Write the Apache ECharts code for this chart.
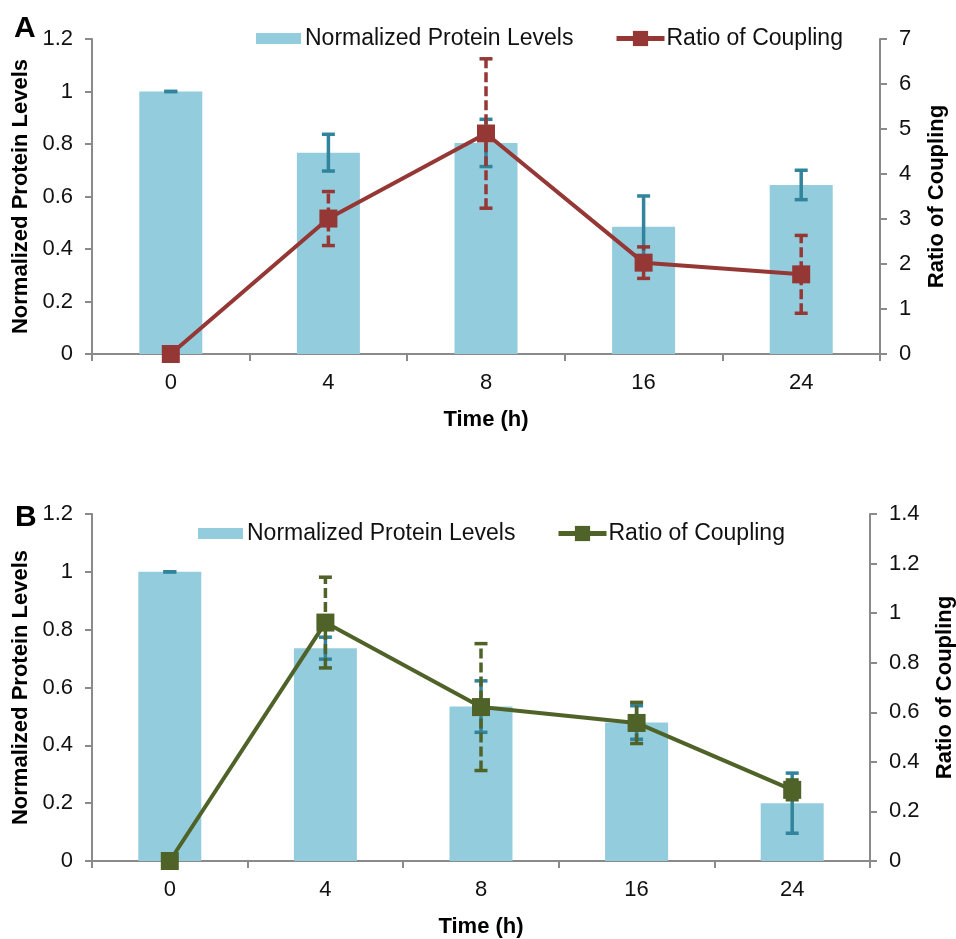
<!DOCTYPE html>
<html>
<head>
<meta charset="utf-8">
<script src="https://cdn.jsdelivr.net/npm/echarts@6/dist/echarts.min.js"></script>
<style>
html,body{margin:0;padding:0;background:#fff;}
#a{position:absolute;left:0;top:0;width:956px;height:470px;}
#b{position:absolute;left:0;top:470px;width:956px;height:469px;}
</style>
</head>
<body>
<div id="a"></div>
<div id="b"></div>
<script>
// ---- data ----
const times = ['0', '4', '8', '16', '24'];
const proteinA = [1.0, 0.767, 0.804, 0.485, 0.644];
const proteinErrA = [0, 0.07, 0.09, 0.117, 0.056];
const ratioA = [0, 3.01, 4.9, 2.03, 1.77];
const ratioErrA = [0, 0.6, 1.66, 0.35, 0.865];

const proteinB = [1.0, 0.736, 0.534, 0.479, 0.2];
const proteinErrB = [0, 0.038, 0.089, 0.058, 0.104];
const ratioB = [0, 0.962, 0.621, 0.557, 0.287];
const ratioErrB = [0, 0.183, 0.256, 0.083, 0.04];

const leftTicksA = {min: 0, max: 1.2, interval: 0.2};
const rightTicksA = {min: 0, max: 7, interval: 1};
const leftTicksB = {min: 0, max: 1.2, interval: 0.2};
const rightTicksB = {min: 0, max: 1.4, interval: 0.2};

// ---- styles ----
const FONT = 'Liberation Sans, Arial, Helvetica, sans-serif';
const AXIS = '#8a8a8a';
const BAR = '#93cddd';
const BARERR = '#31849b';
const RED = '#953735';
const GREEN = '#4f6228';

function errData(vals, errs) {
  return vals.map((v, i) => [i, v - errs[i], v + errs[i]]);
}

function errRender(color, dashed, capW, lw) {
  return function (params, api) {
    const x = api.value(0);
    const pLo = api.coord([x, api.value(1)]);
    const pHi = api.coord([x, api.value(2)]);
    const st = {stroke: color, lineWidth: lw};
    const vst = {stroke: color, lineWidth: lw};
    if (dashed) vst.lineDash = [10, 4];
    return {
      type: 'group',
      children: [
        {type: 'line', shape: {x1: pLo[0], y1: pLo[1], x2: pHi[0], y2: pHi[1]}, style: vst},
        {type: 'line', shape: {x1: pLo[0] - capW / 2, y1: pLo[1], x2: pLo[0] + capW / 2, y2: pLo[1]}, style: st},
        {type: 'line', shape: {x1: pHi[0] - capW / 2, y1: pHi[1], x2: pHi[0] + capW / 2, y2: pHi[1]}, style: st}
      ]
    };
  };
}

function makeOption(cfg) {
  const labelStyle = {fontFamily: FONT, fontSize: 22, color: '#111'};
  const nameStyle = {fontFamily: FONT, fontSize: 22, fontWeight: 'bold', color: '#000'};
  return {
    animation: false,
    backgroundColor: '#fff',
    title: {
      text: cfg.panel, left: cfg.panelLeft, top: cfg.panelTop,
      textStyle: {fontFamily: FONT, fontSize: 30, fontWeight: 'bold', color: '#000'}
    },
    legend: [
      {
        data: [{name: 'Normalized Protein Levels', icon: 'rect'}],
        left: cfg.legBarLeft, top: cfg.legTop, itemWidth: 45, itemHeight: 11, itemGap: 4,
        textStyle: {fontFamily: FONT, fontSize: 23, color: '#111', padding: [0, 0, 0, -1]},
        selectedMode: false
      },
      {
        data: ['Ratio of Coupling'],
        left: cfg.legLineLeft, top: cfg.legTop, itemWidth: 48, itemHeight: 19,
        lineStyle: {width: 5},
        textStyle: {fontFamily: FONT, fontSize: 23, color: '#111', padding: [0, 0, 0, -3]},
        selectedMode: false
      }
    ],
    grid: {left: 92, top: cfg.gridTop, width: cfg.gridWidth, height: cfg.gridHeight,
           containLabel: false, outerBoundsMode: 'none'},
    xAxis: {
      type: 'category', data: times,
      name: 'Time (h)', nameLocation: 'middle', nameGap: 55, nameTextStyle: nameStyle,
      axisLine: {lineStyle: {color: AXIS, width: 2}},
      axisTick: {show: true, alignWithLabel: false, length: 7, lineStyle: {color: AXIS, width: 2}},
      axisLabel: Object.assign({margin: 18}, labelStyle)
    },
    yAxis: [
      {
        type: 'value', position: 'left',
        min: cfg.left.min, max: cfg.left.max, interval: cfg.left.interval,
        name: 'Normalized Protein Levels', nameLocation: 'middle', nameRotate: 90, nameGap: 58,
        nameTextStyle: nameStyle,
        axisLine: {show: true, lineStyle: {color: AXIS, width: 2}},
        axisTick: {show: true, length: 7, lineStyle: {color: AXIS, width: 2}},
        splitLine: {show: false},
        axisLabel: Object.assign({margin: 19}, labelStyle)
      },
      {
        type: 'value', position: 'right',
        min: cfg.right.min, max: cfg.right.max, interval: cfg.right.interval,
        name: 'Ratio of Coupling', nameLocation: 'middle', nameRotate: 90, nameGap: cfg.rightNameGap,
        nameTextStyle: nameStyle,
        axisLine: {show: true, lineStyle: {color: AXIS, width: 2}},
        axisTick: {show: true, length: 7, lineStyle: {color: AXIS, width: 2}},
        splitLine: {show: false},
        axisLabel: Object.assign({margin: 19}, labelStyle)
      }
    ],
    series: [
      {
        name: 'Normalized Protein Levels', type: 'bar', yAxisIndex: 0,
        data: cfg.protein, barWidth: 63, itemStyle: {color: BAR}, z: 2
      },
      {
        name: 'proteinErr', type: 'custom', yAxisIndex: 0,
        data: errData(cfg.protein, cfg.proteinErr),
        renderItem: errRender(BARERR, false, 13, 3.5), z: 3, silent: true
      },
      {
        name: 'ratioErr', type: 'custom', yAxisIndex: 1,
        data: errData(cfg.ratio, cfg.ratioErr),
        renderItem: errRender(cfg.lineColor, true, 13, 3.5), z: 4, silent: true
      },
      {
        name: 'Ratio of Coupling', type: 'line', yAxisIndex: 1,
        data: cfg.ratio, symbol: 'rect', symbolSize: 18, showAllSymbol: true,
        lineStyle: {color: cfg.lineColor, width: 4},
        itemStyle: {color: cfg.lineColor}, z: 5
      }
    ]
  };
}

const chartA = echarts.init(document.getElementById('a'), null, {renderer: 'canvas'});
chartA.setOption(makeOption({
  panel: 'A', panelLeft: 9, panelTop: 9,
  legBarLeft: 251, legLineLeft: 609, legTop: 22,
  gridTop: 39, gridWidth: 788, gridHeight: 315,
  left: leftTicksA, right: rightTicksA, rightNameGap: 46,
  protein: proteinA, proteinErr: proteinErrA, ratio: ratioA, ratioErr: ratioErrA,
  lineColor: RED
}));

const chartB = echarts.init(document.getElementById('b'), null, {renderer: 'canvas'});
chartB.setOption(makeOption({
  panel: 'B', panelLeft: 10, panelTop: 28,
  legBarLeft: 193, legLineLeft: 551, legTop: 47,
  gridTop: 44, gridWidth: 778, gridHeight: 347,
  left: leftTicksB, right: rightTicksB, rightNameGap: 64,
  protein: proteinB, proteinErr: proteinErrB, ratio: ratioB, ratioErr: ratioErrB,
  lineColor: GREEN
}));
</script>
</body>
</html>
